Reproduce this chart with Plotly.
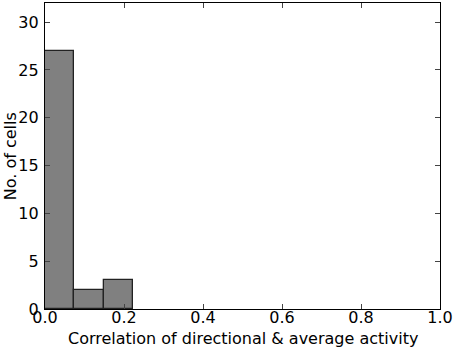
import plotly.graph_objects as go

bin_edges = [0.0, 0.0745, 0.149, 0.2235]
counts = [27, 2, 3]
x_ticks = [0.0, 0.2, 0.4, 0.6, 0.8, 1.0]
x_tick_labels = ["0.0", "0.2", "0.4", "0.6", "0.8", "1.0"]
y_ticks = [0, 5, 10, 15, 20, 25, 30]

centers = [(a + b) / 2 for a, b in zip(bin_edges[:-1], bin_edges[1:])]
widths = [b - a for a, b in zip(bin_edges[:-1], bin_edges[1:])]

fig = go.Figure(go.Bar(x=centers, y=counts, width=widths,
                       marker=dict(color="#808080", line=dict(color="#222", width=1.3))))

font = dict(family="DejaVu Sans", size=16, color="black")
fig.update_layout(
    width=454, height=349, margin=dict(l=45, r=14, t=3, b=40, autoexpand=False),
    plot_bgcolor="white", paper_bgcolor="white", showlegend=False, font=font,
    bargap=0,
)
fig.update_xaxes(range=[0, 1], tickvals=x_ticks, ticktext=x_tick_labels,
                 ticks="inside", ticklen=5, tickcolor="#444", showline=True,
                 linecolor="black", linewidth=1.2, mirror="ticks", showgrid=False,
                 zeroline=False, automargin=False, ticklabelstandoff=-6)
fig.update_yaxes(range=[0, 32], tickvals=y_ticks, ticks="inside", ticklen=5,
                 tickcolor="#444", showline=True, linecolor="black", linewidth=1.2,
                 mirror="ticks", showgrid=False, zeroline=False, automargin=False,
                 ticklabelstandoff=2)
fig.add_annotation(text="Correlation of directional &amp; average activity",
                   xref="paper", yref="paper", x=0.5, y=-0.097, yanchor="middle",
                   xanchor="center", showarrow=False, font=font)
fig.add_annotation(text="No. of cells", xref="paper", yref="paper",
                   x=-0.088, y=0.5, textangle=-90, xanchor="center", yanchor="middle",
                   showarrow=False, font=font)
fig.write_html("out.html", post_script="document.body.style.margin='0';",
               config={"displayModeBar": False})
